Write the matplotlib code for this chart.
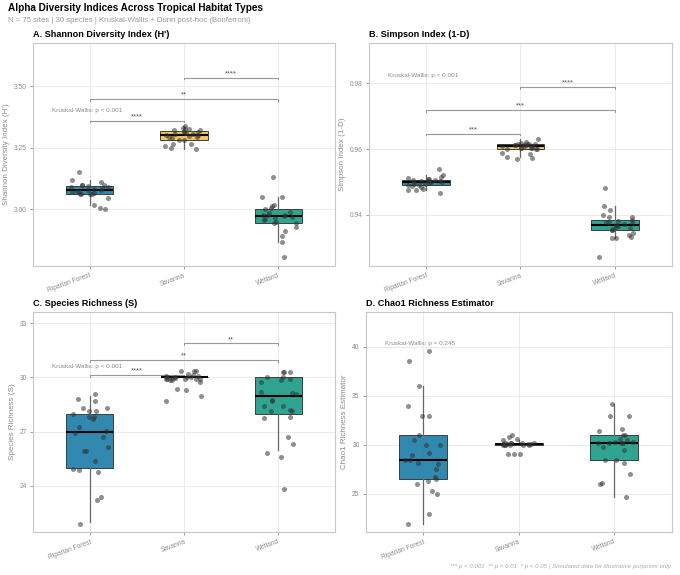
import numpy as np
import matplotlib.pyplot as plt

plt.rcParams["font.family"] = ["Liberation Sans", "DejaVu Sans"]

habitate = ["Riparian Forest", "Savanna", "Wetland"]
farben = ["#1F7FA8", "#F0C05A", "#1E9C88"]

# Shannon H'
shannon_rip = [3.018, 3.001, 3.005, 3.150, 3.101, 3.101, 3.092, 3.088, 3.112, 3.097,
               3.101, 3.062, 3.062, 3.078, 3.062, 3.062, 3.046, 3.080, 3.065, 3.092,
               3.072, 3.076, 3.084, 3.072, 3.120]
shannon_sav = [3.338, 3.331, 3.322, 3.328, 3.328, 3.319, 3.324, 3.301, 3.292, 3.265,
               3.264, 3.281, 3.258, 3.245, 3.250, 3.308, 3.301, 3.311, 3.295, 3.297,
               3.308, 3.295, 3.311, 3.281, 3.315]
shannon_wet = [3.132, 3.049, 3.049, 3.019, 3.015, 3.001, 2.991, 2.943, 2.930, 2.892,
               2.866, 2.805, 2.914, 2.962, 2.947, 2.984, 2.964, 2.977, 2.946, 2.977,
               2.977, 3.004, 2.970, 2.973, 2.957]

# Simpson 1-D
simpson_rip = [0.9539, 0.9520, 0.9516, 0.9510, 0.9507, 0.9495, 0.9499, 0.9502, 0.9499, 0.9502,
               0.9499, 0.9497, 0.9485, 0.9480, 0.9475, 0.9475, 0.9466, 0.9495, 0.9509, 0.9491,
               0.9505, 0.9492, 0.9502, 0.9512, 0.9487]
simpson_sav = [0.9631, 0.9621, 0.9614, 0.9617, 0.9616, 0.9612, 0.9612, 0.9614, 0.9612, 0.9604,
               0.9602, 0.9599, 0.9599, 0.9601, 0.9589, 0.9584, 0.9573, 0.9577, 0.9570, 0.9609,
               0.9608, 0.9609, 0.9604, 0.9604, 0.9615]
simpson_wet = [0.9482, 0.9427, 0.9414, 0.9401, 0.9393, 0.9385, 0.9381, 0.9380, 0.9380, 0.9375,
               0.9358, 0.9346, 0.9331, 0.9362, 0.9360, 0.9373, 0.9365, 0.9355, 0.9338, 0.9330,
               0.9332, 0.9271, 0.9355, 0.9368, 0.9395]

richness_rip = [21.85, 23.37, 23.22, 24.74, 25.35, 26.15, 25.91, 25.94, 24.85, 24.94,
                27.26, 27.02, 26.70, 26.93, 27.81, 27.80, 27.70, 28.13, 28.33, 28.33,
                28.15, 28.69, 29.11, 28.78, 27.96]
richness_sav = [30.35, 30.37, 30.37, 30.13, 29.85, 29.76, 29.89, 30.07, 29.89, 29.89,
                30.00, 29.94, 30.07, 29.96, 30.00, 29.96, 30.04, 29.94, 30.22, 29.85,
                30.00, 28.72, 29.37, 29.00, 29.33]
richness_wet = [30.28, 30.28, 30.31, 30.00, 29.85, 29.74, 29.94, 29.11, 29.15, 29.20,
                28.74, 28.69, 28.41, 28.41, 28.19, 28.15, 28.15, 27.78, 27.74, 26.69,
                26.33, 25.80, 25.61, 23.80, 30.00]

# Chao1
chao_rip = [21.95, 22.96, 26.30, 26.50, 26.70, 26.00, 25.30, 24.97, 28.03, 28.47,
            28.47, 29.22, 28.98, 30.00, 30.00, 30.98, 30.50, 32.99, 32.99, 33.97,
            36.00, 38.50, 39.54, 27.50, 28.20]
chao_sav = [29.02, 29.02, 29.02, 30.81, 30.98, 30.61, 30.50, 30.10, 30.17, 30.24,
            30.10, 30.00, 30.20, 30.00, 30.00, 30.00, 30.24, 30.00, 30.24, 30.10,
            30.00, 30.10]
chao_wet = [34.20, 32.99, 32.99, 31.66, 31.46, 30.98, 30.98, 30.54, 30.24, 30.14,
            30.24, 30.30, 29.50, 29.76, 28.47, 28.47, 28.13, 27.00, 26.00, 26.15,
            24.73, 30.60, 30.17, 30.30]

panels = [
    dict(titel="A. Shannon Diversity Index (H')", ylabel="Shannon Diversity Index (H')",
         daten=[shannon_rip, shannon_sav, shannon_wet], ganzzahlig=False, ylim=(2.77, 3.676),
         ticks=[3.00, 3.25, 3.50], fmt="{:.2f}", kw_text="Kruskal-Wallis: p < 0.001", kw_y=3.403,
         klammern=[(1, 2, 3.361, "****"), (1, 3, 3.449, "**"), (2, 3, 3.535, "****")],
         pos=[0.0485, 0.5374, 0.4441, 0.3878]),
    dict(titel="B. Simpson Index (1-D)", ylabel="Simpson Index (1-D)",
         daten=[simpson_rip, simpson_sav, simpson_wet], ganzzahlig=False, ylim=(0.9245, 0.9922),
         ticks=[0.94, 0.96, 0.98], fmt="{:.2f}", kw_text="Kruskal-Wallis: p < 0.001", kw_y=0.9822,
         klammern=[(1, 2, 0.9647, "***"), (1, 3, 0.9719, "***"), (2, 3, 0.9789, "****")],
         pos=[0.543, 0.5374, 0.4448, 0.3878]),
    dict(titel="C. Species Richness (S)", ylabel="Species Richness (S)",
         daten=[richness_rip, richness_sav, richness_wet], ganzzahlig=True, ylim=(21.41, 33.65),
         ticks=[24, 27, 30, 33], fmt="{:.0f}", kw_text="Kruskal-Wallis: p < 0.001", kw_y=30.59,
         klammern=[(1, 2, 30.13, "****"), (1, 3, 30.98, "**"), (2, 3, 31.89, "**")],
         pos=[0.049, 0.0743, 0.4436, 0.3836]),
    dict(titel="D. Chao1 Richness Estimator", ylabel="Chao1 Richness Estimator",
         daten=[chao_rip, chao_sav, chao_wet], ganzzahlig=False, ylim=(21.1, 43.56),
         ticks=[25, 30, 35, 40], fmt="{:.0f}", kw_text="Kruskal-Wallis: p = 0.245", kw_y=40.34,
         klammern=[], pos=[0.538, 0.0743, 0.4498, 0.3836]),
]

grau = "#8C8C8C"
fig = plt.figure(figsize=(6.8, 5.75), dpi=100)
zufall = np.random.default_rng(7)

for p in panels:
    ax = fig.add_axes(p["pos"])
    boxdaten = [np.round(d) if p["ganzzahlig"] else d for d in p["daten"]]
    bp = ax.boxplot(boxdaten, positions=[1, 2, 3], widths=0.5, patch_artist=True,
                    showfliers=False, zorder=2,
                    boxprops=dict(edgecolor="#333333", linewidth=0.7),
                    whiskerprops=dict(color="#666666", linewidth=0.9),
                    capprops=dict(linewidth=0),
                    medianprops=dict(color="black", linewidth=1.5))
    for patch, c in zip(bp["boxes"], farben):
        patch.set_facecolor(c)
        patch.set_alpha(0.92)
    for i, werte in enumerate(p["daten"]):
        xs = i + 1 + zufall.uniform(-0.2, 0.2, len(werte))
        ax.scatter(xs, werte, s=13, color="#333333", alpha=0.55, linewidths=0, zorder=3)

    lo, hi = p["ylim"]
    tick_h = (hi - lo) * 0.008
    for a, b, y, lab in p["klammern"]:
        ax.plot([a, a, b, b], [y - tick_h, y, y, y - tick_h], color="#999999", lw=0.8, zorder=1)
        ax.text((a + b) / 2, y + tick_h * 0.3, lab, ha="center", va="bottom",
                fontsize=5.5, color="#555555")
    ax.text(0.6, p["kw_y"], p["kw_text"], ha="left", va="center", fontsize=4.6, color=grau)

    ax.set_xlim(0.4, 3.6)
    ax.set_ylim(lo, hi)
    ax.set_yticks(p["ticks"])
    ax.set_yticklabels([p["fmt"].format(t) for t in p["ticks"]])
    ax.set_xticks([1, 2, 3])
    ax.set_xticklabels(habitate, rotation=20, ha="right", rotation_mode="anchor")
    ax.tick_params(axis="both", labelsize=4.8, colors=grau, length=2, width=0.6, pad=2.5)
    ax.set_ylabel(p["ylabel"], fontsize=5.8, color=grau, labelpad=3)
    ax.set_title(p["titel"], loc="left", fontsize=6.6, fontweight="bold", pad=4)
    ax.grid(True, color="#EBEBEB", linewidth=0.7, zorder=0)
    ax.set_axisbelow(True)
    for s in ax.spines.values():
        s.set_color("#C8C8C8")
        s.set_linewidth(0.8)

fig.text(0.012, 0.986, "Alpha Diversity Indices Across Tropical Habitat Types",
         fontsize=7.2, fontweight="bold", va="center")
fig.text(0.012, 0.965, "N = 75 sites | 30 species | Kruskal-Wallis + Dunn post-hoc (Bonferroni)",
         fontsize=5.6, color="#999999", va="center")
fig.text(0.988, 0.014, "*** p < 0.001  ** p < 0.01  * p < 0.05 | Simulated data for illustrative purposes only.",
         fontsize=4.4, color="#AAAAAA", style="italic", ha="right", va="center")

fig.savefig("out.png", dpi=100)
